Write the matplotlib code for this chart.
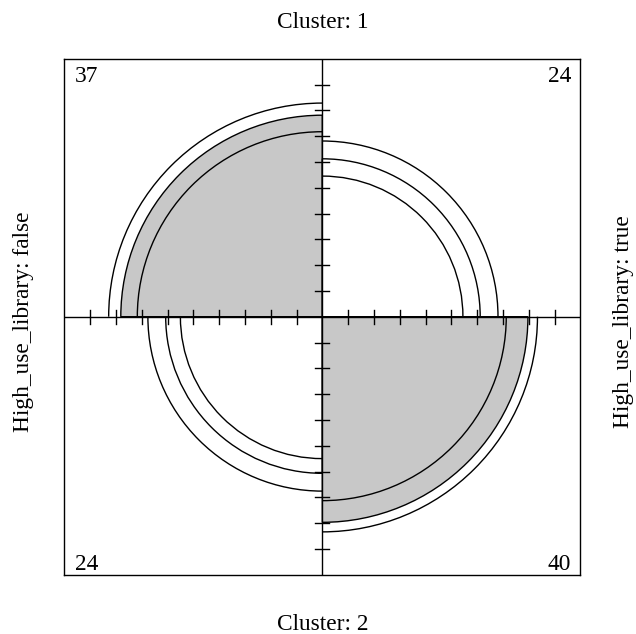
import numpy as np
import matplotlib
matplotlib.use("Agg")
import matplotlib.pyplot as plt
from matplotlib.patches import Wedge, Arc

plt.rcParams['font.family'] = ['Liberation Serif', 'DejaVu Serif']

# cells in order: top-left, top-right, bottom-left, bottom-right
counts = [37, 24, 24, 40]
radius = [0.781, 0.612, 0.607, 0.797]     # quarter circle radius (box half-width = 1)
ring_lo = [0.717, 0.545, 0.550, 0.713]    # lower confidence ring
ring_hi = [0.828, 0.681, 0.676, 0.834]    # upper confidence ring
fills = ['#c8c8c8', 'white', 'white', '#c8c8c8']
angles = [(90, 180), (0, 90), (180, 270), (270, 360)]

row_labels = ["Cluster: 1", "Cluster: 2"]
col_labels = ["High_use_library: false", "High_use_library: true"]
ticks = np.arange(1, 10) / 10

W, H = 636, 634
fig = plt.figure(figsize=(W / 100, H / 100), dpi=100)
# box spans pixels x 64.3..580.3, y 58.7..574.7 (from top)
ax = fig.add_axes([64.3 / W, (H - 574.7) / H, 516 / W, 516 / H])
ax.set_xlim(-1, 1)
ax.set_ylim(-1, 1)
ax.set_xticks([])
ax.set_yticks([])
for s in ax.spines.values():
    s.set_linewidth(1.0)

lw = 1.0
for i in range(4):
    a0, a1 = angles[i]
    ax.add_patch(Wedge((0, 0), radius[i], a0, a1, facecolor=fills[i],
                       edgecolor='black', linewidth=lw, zorder=2))
    for r in (ring_lo[i], ring_hi[i]):
        ax.add_patch(Arc((0, 0), 2 * r, 2 * r, theta1=a0, theta2=a1,
                         color='black', linewidth=lw, zorder=3))

# cross and tick marks
ax.plot([-1, 1], [0, 0], color='black', linewidth=lw, zorder=4)
ax.plot([0, 0], [-1, 1], color='black', linewidth=lw, zorder=4)
tl = 7 / 258
for t in np.concatenate([-ticks, ticks]):
    ax.plot([t, t], [-tl, tl], color='black', linewidth=lw, zorder=4)
    ax.plot([-tl, tl], [t, t], color='black', linewidth=lw, zorder=4)

fs = 16.8
u = 1 / 258
ax.text(-1 + 11 * u, 1 - 23.3 * u, str(counts[0]), fontsize=fs, ha='left', va='baseline')
ax.text(1 - 9 * u, 1 - 23.3 * u, str(counts[1]), fontsize=fs, ha='right', va='baseline')
ax.text(-1 + 11 * u, -1 + 4.7 * u, str(counts[2]), fontsize=fs, ha='left', va='baseline')
ax.text(1 - 9 * u, -1 + 4.7 * u, str(counts[3]), fontsize=fs, ha='right', va='baseline')

fig.text(322.3 / W, 1 - 28.3 / H, row_labels[0], fontsize=fs, ha='center', va='baseline')
fig.text(322.3 / W, 1 - 630 / H, row_labels[1], fontsize=fs, ha='center', va='baseline')
fig.text(24 / W, 1 - 322 / H, col_labels[0], fontsize=fs, ha='center', va='center', rotation=90)
fig.text(624 / W, 1 - 322 / H, col_labels[1], fontsize=fs, ha='center', va='center', rotation=90)

fig.savefig("out.png", dpi=100)
